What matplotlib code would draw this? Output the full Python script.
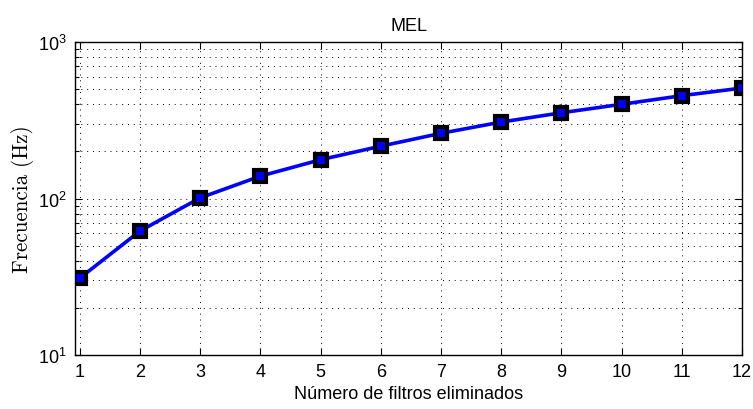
import matplotlib
matplotlib.use("Agg")
import matplotlib.pyplot as plt
from matplotlib.ticker import LogLocator, NullFormatter

plt.rcParams["font.family"] = ["Liberation Sans", "DejaVu Sans"]

filtros = [1, 2, 3, 4, 5, 6, 7, 8, 9, 10, 11, 12]
frecuencia = [31, 62, 101, 139, 177, 216, 261, 308, 353, 400, 454, 508]

fig = plt.figure(figsize=(7.53, 4.10), dpi=100)
ax = fig.add_axes([0.0996, 0.1317, 0.8858, 0.7634])

ax.plot(filtros, frecuencia, color="#0000ff", linewidth=2.6,
        marker="s", markersize=8.5, markerfacecolor="#0000ff",
        markeredgecolor="black", markeredgewidth=3.0)

ax.set_yscale("log")
ax.set_ylim(10, 1000)
ax.set_xlim(0.92, 12)
ax.set_xticks(filtros)
ax.yaxis.set_major_locator(LogLocator(base=10, numticks=5))
ax.yaxis.set_minor_locator(LogLocator(base=10, subs=range(2, 10), numticks=20))
ax.yaxis.set_minor_formatter(NullFormatter())

dots = (0, (1, 5))
ax.grid(True, which="major", axis="both", color="black", linestyle=dots, linewidth=0.7)
ax.grid(True, which="minor", axis="y", color="black", linestyle=dots, linewidth=0.7)

ax.tick_params(which="both", direction="in", top=True, right=True, labelsize=13, width=0.8)
ax.tick_params(which="major", length=5, pad=6)
ax.tick_params(which="minor", length=3)
for s in ax.spines.values():
    s.set_linewidth(1.0)

ax.set_title("MEL", fontsize=13, pad=9)
ax.set_xlabel("Número de filtros eliminados", fontsize=13, labelpad=3)
ax.set_ylabel("Frecuencia (Hz)", fontsize=15.2, family="cmr10", labelpad=3)

fig.savefig("out.png", dpi=100)
